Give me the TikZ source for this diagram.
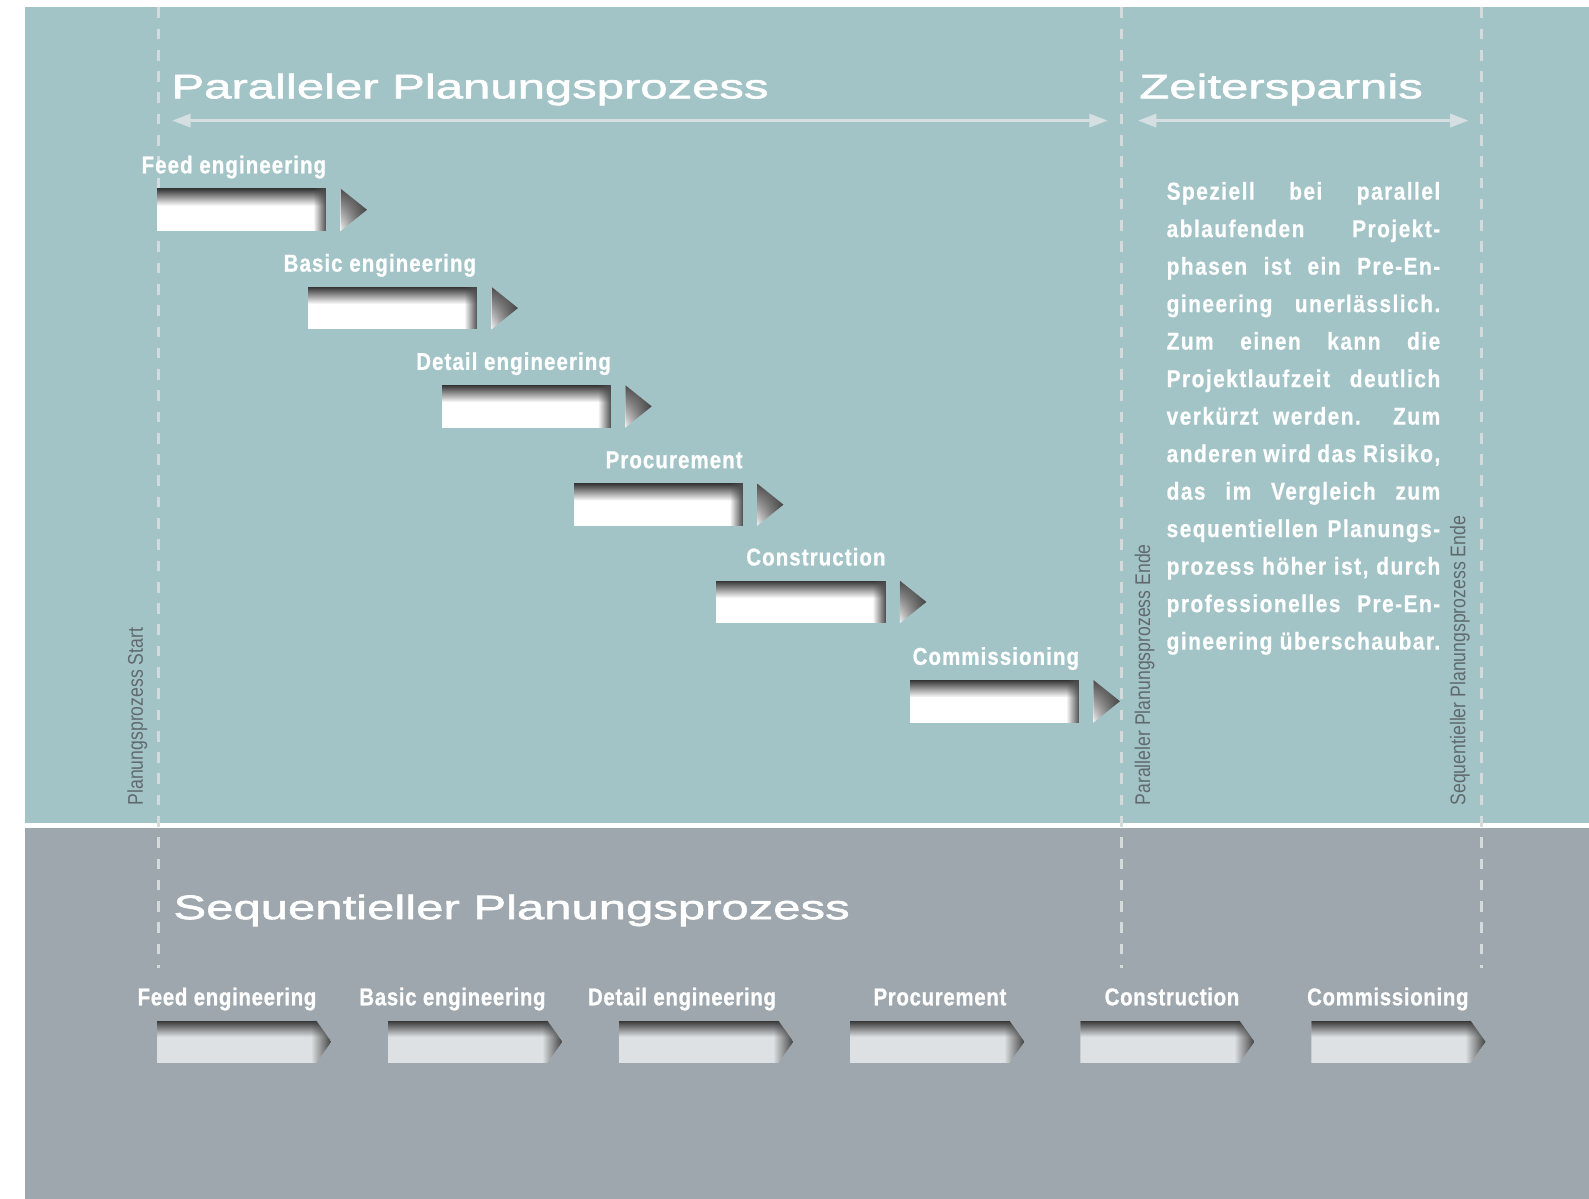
\documentclass[tikz,border=0pt]{standalone}
\usepackage{fontspec}
\setmainfont{Liberation Sans}
\usetikzlibrary{arrows.meta,fadings}
\newfontfamily\titlefont[FakeStretch=1.445,FakeBold=1.8]{Liberation Sans}
\newfontfamily\toplabelfont[FakeStretch=0.84,LetterSpace=4.5,FakeBold=0.8]{Liberation Sans Bold}
\newfontfamily\botlabelfont[FakeStretch=0.84,LetterSpace=2.8,FakeBold=0.8]{Liberation Sans Bold}
\newfontfamily\parafont[FakeStretch=0.86,LetterSpace=6,FakeBold=0.6]{Liberation Sans Bold}
\newfontfamily\vertfont[FakeStretch=0.83]{Liberation Sans}
\definecolor{panelA}{HTML}{A3C4C7}
\definecolor{panelB}{HTML}{9DA7AD}
\definecolor{dashc}{HTML}{D4DBDD}
\definecolor{arrowc}{HTML}{D5DEE0}
\definecolor{vertc}{HTML}{606A6E}
\definecolor{barc}{HTML}{DDE1E3}
\tikzfading[name=fadetop, top color=transparent!0, bottom color=transparent!100]
\tikzfading[name=faderight, right color=transparent!0, left color=transparent!100]
\tikzset{
  dashline/.style={draw=dashc, line width=3pt, dash pattern=on 10.5pt off 10.5pt},
  dimline/.style={draw=arrowc, line width=2.5pt,
    {Triangle[length=18pt,width=13pt]}-{Triangle[length=18pt,width=13pt]}},
  ttl/.style={font=\titlefont\fontsize{33.5}{40}\selectfont, text=white, inner sep=0pt, anchor=base west},
  toplabel/.style={font=\toplabelfont\fontsize{24}{28}\selectfont, text=white, inner sep=0pt, anchor=base east},
  botlabel/.style={font=\botlabelfont\fontsize{24}{28}\selectfont, text=white, inner sep=0pt, anchor=base},
  vtext/.style={font=\vertfont\fontsize{21}{24}\selectfont, text=vertc, inner sep=0pt, rotate=90, anchor=base west},
  paratext/.style={font=\parafont\fontsize{24}{37}\selectfont, text=white, inner sep=0pt, anchor=base west},
}
% parallel bar: x, y (top-left)
\newcommand{\pbar}[2]{%
  \fill[white] (#1,#2) rectangle ++(167,42);
  \fill[black!80, path fading=fadetop] (#1,#2) rectangle ++(167,17);
  \fill[black!70, path fading=faderight] ({#1+154},#2) rectangle ++(13,42);
  \shade[left color=white!95!black, right color=black!75] ({#1+181},#2) -- ++(26,21) -- ++(-26,21) -- cycle;
  \fill[black!70, path fading=fadetop] ({#1+181},#2) -- ++(26,21) -- ++(-26,21) -- cycle;
}
% sequential bar: x, y (top-left)
\newcommand{\sbar}[2]{%
  \begin{scope}
    \clip (#1,#2) -- ++(157,0) -- ++(15,21) -- ++(-15,21) -- ++(-157,0) -- cycle;
    \fill[barc] (#1,#2) rectangle ++(172,42);
    \fill[black!80, path fading=fadetop] (#1,#2) rectangle ++(172,16);
    \fill[black!75, path fading=faderight] ({#1+152},#2) rectangle ++(20,42);
  \end{scope}
}
\begin{document}
\begin{tikzpicture}[x=1pt,y=-1pt]
\useasboundingbox (0,0) rectangle (1568,1183);
\fill[white] (0,0) rectangle (1568,1183);
\fill[panelA] (25,7.2) rectangle (1568,812);
\fill[panelB] (25,817) rectangle (1568,1183);

% dashed time markers
\coordinate (d1t) at (156,7.2); \coordinate (d1b) at (156,955);
\coordinate (d2t) at (1107,7.2); \coordinate (d2b) at (1107,955);
\coordinate (d3t) at (1462,7.2); \coordinate (d3b) at (1462,955);
\draw[dashline] (d1t) -- (d1b);
\draw[dashline] (d2t) -- (d2b);
\draw[dashline] (d3t) -- (d3b);

% titles
\node[ttl] (tpar) at (169,97) {Paralleler Planungsprozess};
\node[ttl] (tzeit) at (1124,97) {Zeitersparnis};
\node[ttl] (tseq) at (171,907) {Sequentieller Planungsprozess};

% dimension arrows
\coordinate (a1l) at (170,119); \coordinate (a1r) at (1093,119);
\coordinate (a2l) at (1123,119); \coordinate (a2r) at (1449,119);
\draw[dimline] (a1l) -- (a1r);
\draw[dimline] (a2l) -- (a2r);

% parallel bars
\pbar{155}{186}
\pbar{304}{283}
\pbar{436}{380}
\pbar{566}{477}
\pbar{707}{573}
\pbar{898}{671}
\node[toplabel] (p1) at (322,171) {Feed engineering};
\node[toplabel] (p2) at (470,268) {Basic engineering};
\node[toplabel] (p3) at (603,365) {Detail engineering};
\node[toplabel] (p4) at (733,462) {Procurement};
\node[toplabel] (p5) at (874,558) {Construction};
\node[toplabel] (p6) at (1065,656) {Commissioning};

% sequential bars
\sbar{155}{1007}
\sbar{383}{1007}
\sbar{611}{1007}
\sbar{839}{1007}
\sbar{1066}{1007}
\sbar{1294}{1007}
\node[botlabel] (s1) at (224,992) {Feed engineering};
\node[botlabel] (s2) at (446.5,992) {Basic engineering};
\node[botlabel] (s3) at (673,992) {Detail engineering};
\node[botlabel] (s4) at (927.5,992) {Procurement};
\node[botlabel] (s5) at (1156.5,992) {Construction};
\node[botlabel] (s6) at (1369.5,992) {Commissioning};

% vertical labels
\node[vtext] (v1) at (141,795) {Planungsprozess Start};
\node[vtext] (v2) at (1135,795) {Paralleler Planungsprozess Ende};
\node[vtext] (v3) at (1446,795) {Sequentieller Planungsprozess Ende};

% paragraph
\node[paratext] (para) at (1151,197) {\vtop{\hsize=270pt\parindent=0pt\hbadness=10000\hfuzz=20pt\baselineskip=37pt\lineskiplimit=-100pt
\hbox to 270pt{Speziell bei parallel}
\hbox to 270pt{ablaufenden Projekt-}
\hbox to 270pt{phasen ist ein Pre-En-}
\hbox to 270pt{gineering unerlässlich.}
\hbox to 270pt{Zum einen kann die}
\hbox to 270pt{Projektlaufzeit deutlich}
\hbox to 270pt{verkürzt werden. Zum}
\hbox to 270pt{anderen wird das Risiko,}
\hbox to 270pt{das im Vergleich zum}
\hbox to 270pt{sequentiellen Planungs-}
\hbox to 270pt{prozess höher ist, durch}
\hbox to 270pt{professionelles Pre-En-}
\hbox{gineering überschaubar.}}};
\end{tikzpicture}
\end{document}
